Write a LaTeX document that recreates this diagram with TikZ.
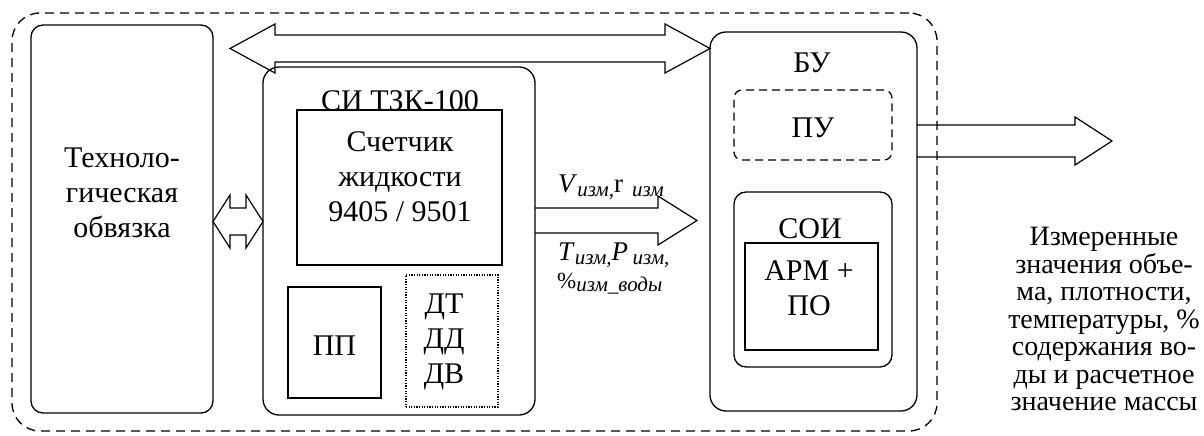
\documentclass[tikz,border=0pt]{standalone}
\usepackage{fontspec}
\setmainfont{Liberation Serif}
\usetikzlibrary{positioning}

\newcommand\izm[1]{\raisebox{-0.35ex}{\fontsize{21}{21}\selectfont\itshape #1}}

\begin{document}
\begin{tikzpicture}[x=1pt, y=-1pt,
  every node/.style={font=\fontsize{30}{35}\selectfont},
  box/.style={draw, line width=1.3pt, inner sep=0pt, outer sep=0pt},
  blk/.style={draw, line width=1.2pt, line join=miter},
  lbl/.style={align=center, inner sep=0pt},
  note/.style={align=center, inner sep=0pt, font=\fontsize{28}{27.5}\selectfont}
]
  \useasboundingbox (0,0) rectangle (1204,436);

  % whole system
  \node[box, dash pattern=on 9pt off 6pt, rounded corners=28pt,
        minimum width=925pt, minimum height=418pt] (sys) at (474.5,222) {};

  % left part
  \node[box, rounded corners=12pt, minimum width=182pt, minimum height=388pt] (tech) at (122,219) {};
  \node[lbl] (techtxt) at (122,193) {Техноло-\\гическая\\обвязка};

  % measuring system
  \node[box, rounded corners=16pt, minimum width=272pt, minimum height=348pt] (si) at (399,241) {};
  \node[lbl, anchor=base] (sitxt) at (400,110) {СИ ТЗК-100};
  \node[box, minimum width=205pt, minimum height=155pt] (cnt) at (399.5,187.5) {};
  \node[lbl] (cnttxt) at (400,177) {Счетчик\\жидкости\\9405 / 9501};
  \node[box, minimum width=93pt, minimum height=111pt] (pp) at (334.5,342.5) {};
  \node[lbl] (pptxt) at (334.5,345.5) {ПП};
  \node[box, line width=1.1pt, dash pattern=on 1.2pt off 1.4pt,
        minimum width=92pt, minimum height=132pt] (sens) at (452,341) {};
  \node[lbl] (senstxt) at (444,341.5) {ДТ\\ДД\\ДВ};

  % control unit
  \node[box, rounded corners=16pt, minimum width=207pt, minimum height=379pt] (bu) at (813.5,221.5) {};
  \node[lbl, anchor=base] (butxt) at (812,72) {БУ};
  \node[box, dash pattern=on 8pt off 5pt, rounded corners=8pt,
        minimum width=158pt, minimum height=70pt] (pu) at (813,125) {};
  \node[lbl, anchor=base] (putxt) at (813,137) {ПУ};
  \node[box, rounded corners=12pt, minimum width=158pt, minimum height=175pt] (soi) at (813,279.5) {};
  \node[lbl, anchor=base] (soitxt) at (810,238) {СОИ};
  \node[box, minimum width=133pt, minimum height=107pt] (arm) at (811.5,296.5) {};
  \node[lbl] (armtxt) at (809,288) {АРМ +\\ПО};

  % block arrows
  \coordinate (toptip) at (230,48.5);
  \coordinate (midtip) at (697,220.5);
  \coordinate (outtip) at (1112,141);
  \draw[blk] (toptip) -- (275,24) -- (275,35) -- (665,35) -- (665,24)
    -- (bu.west |- toptip) -- (665,73) -- (665,62) -- (275,62) -- (275,73) -- cycle;
  \draw[blk] (tech.east |- 0,221.5) -- (230,195) -- (230,208) -- (246,208) -- (246,195)
    -- (si.west |- 0,221.5) -- (246,248) -- (246,235) -- (230,235) -- (230,248) -- cycle;
  \draw[blk] (si.east |- 0,208) -- (658,208) -- (658,196) -- (midtip)
    -- (658,245) -- (658,233) -- (si.east |- 0,233);
  \draw[blk] (bu.east |- 0,125) -- (1075,125) -- (1075,117) -- (outtip)
    -- (1075,165) -- (1075,157) -- (bu.east |- 0,157);

  % signal labels
  \node[lbl, anchor=base west, font=\fontsize{27}{27}\selectfont] (vlbl) at (558,192)
    {\textit{V}\izm{изм,}r\,\,\izm{изм}};
  \node[lbl, anchor=base west, font=\fontsize{27}{27}\selectfont] (tlbl) at (558,260)
    {\textit{T}\izm{изм,}\textit{P}\,\izm{изм,}};
  \node[lbl, anchor=base west, font=\fontsize{23}{23}\selectfont] (wlbl) at (557,288)
    {\%\izm{изм\_воды}};

  % output values
  \node[note] (outtxt) at (1104,319) {Измеренные\\значения объе-\\ма, плотности,\\температуры, \%\\содержания во-\\ды и расчетное\\значение массы};
\end{tikzpicture}
\end{document}
